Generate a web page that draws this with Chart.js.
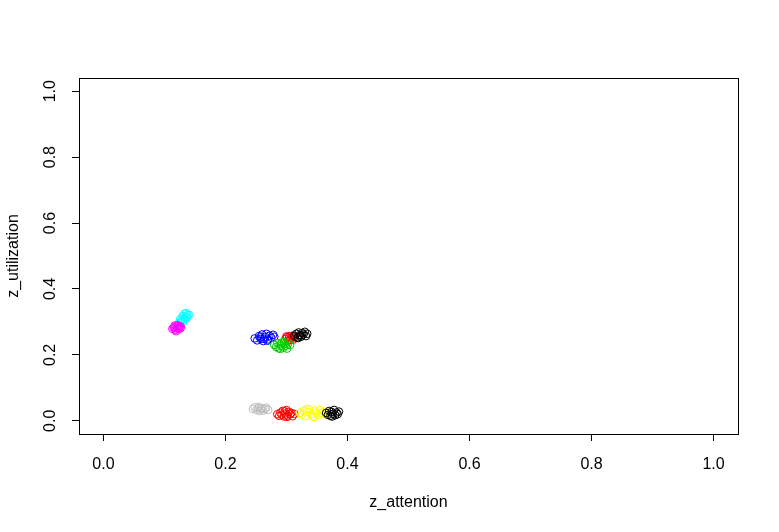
<!DOCTYPE html>
<html>
<head>
<meta charset="utf-8">
<title>z_attention vs z_utilization</title>
<script src="https://cdn.jsdelivr.net/npm/chart.js@4.4.1/dist/chart.umd.min.js"></script>
<style>
  html, body { margin: 0; padding: 0; background: #fff; }
  #wrap { width: 779px; height: 532px; }
</style>
</head>
<body>
<div id="wrap"><canvas id="chart" width="779" height="532"></canvas></div>
<script>
// tick labels for both axes
const tickValues = [0, 0.2, 0.4, 0.6, 0.8, 1.0];

// clusters (x = z_attention, y = z_utilization)
const cyanX = [0.124, 0.127, 0.129, 0.131, 0.132, 0.134, 0.135, 0.137, 0.138, 0.140, 0.130, 0.133, 0.126, 0.136];
const cyanY = [0.297, 0.302, 0.306, 0.300, 0.311, 0.308, 0.316, 0.313, 0.320, 0.322, 0.318, 0.325, 0.309, 0.327];

const magentaX = [0.113, 0.116, 0.118, 0.120, 0.121, 0.122, 0.124, 0.125, 0.127, 0.119, 0.115, 0.123, 0.117, 0.126];
const magentaY = [0.279, 0.284, 0.276, 0.288, 0.281, 0.290, 0.283, 0.287, 0.285, 0.272, 0.282, 0.278, 0.289, 0.280];

const blueX = [0.248, 0.252, 0.255, 0.258, 0.260, 0.262, 0.265, 0.267, 0.270, 0.272, 0.275, 0.278, 0.280, 0.257, 0.263, 0.269];
const blueY = [0.250, 0.244, 0.257, 0.248, 0.262, 0.242, 0.255, 0.264, 0.247, 0.258, 0.252, 0.261, 0.255, 0.253, 0.249, 0.243];

const redTopX = [0.298, 0.301, 0.303, 0.305, 0.307, 0.309, 0.311, 0.313, 0.300, 0.306, 0.304, 0.310];
const redTopY = [0.248, 0.254, 0.243, 0.257, 0.250, 0.258, 0.246, 0.252, 0.256, 0.245, 0.251, 0.255];

const blackTopX = [0.313, 0.316, 0.318, 0.320, 0.322, 0.324, 0.326, 0.328, 0.330, 0.332, 0.334, 0.319, 0.325];
const blackTopY = [0.258, 0.264, 0.253, 0.268, 0.260, 0.255, 0.266, 0.262, 0.270, 0.257, 0.264, 0.251, 0.259];

const greenX = [0.280, 0.283, 0.285, 0.287, 0.289, 0.291, 0.293, 0.295, 0.297, 0.299, 0.301, 0.303, 0.306, 0.290, 0.296];
const greenY = [0.230, 0.224, 0.236, 0.220, 0.232, 0.227, 0.238, 0.222, 0.233, 0.228, 0.219, 0.235, 0.230, 0.218, 0.239];

const grayX = [0.245, 0.248, 0.251, 0.253, 0.255, 0.258, 0.260, 0.262, 0.265, 0.267, 0.270, 0.256];
const grayY = [0.036, 0.041, 0.033, 0.039, 0.042, 0.035, 0.038, 0.031, 0.036, 0.040, 0.033, 0.030];

const redLowX = [0.285, 0.288, 0.290, 0.292, 0.294, 0.296, 0.298, 0.300, 0.302, 0.304, 0.306, 0.308, 0.310, 0.313, 0.297, 0.301];
const redLowY = [0.020, 0.015, 0.025, 0.018, 0.030, 0.013, 0.022, 0.033, 0.016, 0.027, 0.020, 0.024, 0.014, 0.021, 0.029, 0.012];

const yellowX = [0.322, 0.325, 0.328, 0.331, 0.334, 0.337, 0.340, 0.343, 0.346, 0.349, 0.352, 0.355, 0.358, 0.361, 0.364, 0.366, 0.333, 0.345];
const yellowY = [0.024, 0.018, 0.030, 0.014, 0.027, 0.035, 0.020, 0.013, 0.031, 0.024, 0.017, 0.033, 0.022, 0.028, 0.019, 0.026, 0.036, 0.012];

const blackLowX = [0.365, 0.368, 0.370, 0.372, 0.374, 0.376, 0.378, 0.380, 0.382, 0.384, 0.386, 0.375];
const blackLowY = [0.024, 0.018, 0.030, 0.015, 0.027, 0.021, 0.033, 0.017, 0.025, 0.020, 0.028, 0.013];

// drawn bottom to top in this order
const groups = [
  { xs: cyanX, ys: cyanY, color: "#00FFFF" },
  { xs: magentaX, ys: magentaY, color: "#FF00FF" },
  { xs: blueX, ys: blueY, color: "#0000FF" },
  { xs: redTopX, ys: redTopY, color: "#FF0000" },
  { xs: blackTopX, ys: blackTopY, color: "#000000" },
  { xs: greenX, ys: greenY, color: "#00CD00" },
  { xs: grayX, ys: grayY, color: "#BEBEBE" },
  { xs: redLowX, ys: redLowY, color: "#FF0000" },
  { xs: yellowX, ys: yellowY, color: "#FFFF00" },
  { xs: blackLowX, ys: blackLowY, color: "#000000" }
];

const FONT = "'Liberation Sans', Arial, sans-serif";

const datasets = groups.map((g, i) => ({
  data: g.xs.map((x, k) => ({ x: x, y: g.ys[k] })),
  borderColor: g.color,
  backgroundColor: "rgba(0,0,0,0)",
  pointStyle: "circle",
  pointRadius: 3.8,
  pointBorderWidth: 1,
  showLine: false,
  order: groups.length - i
}));

// box around the plot region + rotated y tick labels (R style)
const framePlugin = {
  id: "frame",
  afterDraw(chart) {
    const { ctx, chartArea: a } = chart;
    const yScale = chart.scales.y;
    ctx.save();
    ctx.strokeStyle = "#000";
    ctx.lineWidth = 1;
    ctx.strokeRect(a.left + 0.5, a.top + 0.5, a.right - a.left, a.bottom - a.top);

    ctx.fillStyle = "#000";
    ctx.font = "16px " + FONT;
    ctx.textAlign = "center";
    ctx.textBaseline = "middle";
    yScale.ticks.forEach(t => {
      const py = yScale.getPixelForValue(t.value);
      ctx.save();
      ctx.translate(51, py);
      ctx.rotate(-Math.PI / 2);
      ctx.fillText(t.value.toFixed(1), 0, 0);
      ctx.restore();
    });
    ctx.restore();
  }
};

function setTicks(scale) {
  scale.ticks = tickValues.map(v => ({ value: v }));
}

new Chart(document.getElementById("chart"), {
  type: "scatter",
  data: { datasets: datasets },
  plugins: [framePlugin],
  options: {
    responsive: false,
    animation: false,
    layout: { padding: { left: 0, top: 78, right: 41, bottom: 0 } },
    plugins: { legend: { display: false }, tooltip: { enabled: false } },
    scales: {
      x: {
        type: "linear",
        min: -0.04,
        max: 1.04,
        afterBuildTicks: setTicks,
        afterFit: scale => { scale.height = 98; },
        grid: { drawOnChartArea: false, tickLength: 7, color: "#000", lineWidth: 1 },
        border: { display: false },
        ticks: {
          color: "#000",
          padding: 14,
          maxRotation: 0,
          autoSkip: false,
          font: { family: FONT, size: 16 },
          callback: v => Number(v).toFixed(1)
        },
        title: {
          display: true,
          text: "z_attention",
          color: "#000",
          font: { family: FONT, size: 16 },
          padding: { top: 0, bottom: 20 }
        }
      },
      y: {
        type: "linear",
        min: -0.04,
        max: 1.04,
        afterBuildTicks: setTicks,
        afterFit: scale => { scale.width = 79; },
        grid: { drawOnChartArea: false, tickLength: 7, color: "#000", lineWidth: 1 },
        border: { display: false },
        ticks: { display: false },
        title: {
          display: true,
          text: "z_utilization",
          color: "#000",
          font: { family: FONT, size: 16 },
          padding: { top: 4, bottom: 0 }
        }
      }
    }
  }
});
</script>
</body>
</html>
